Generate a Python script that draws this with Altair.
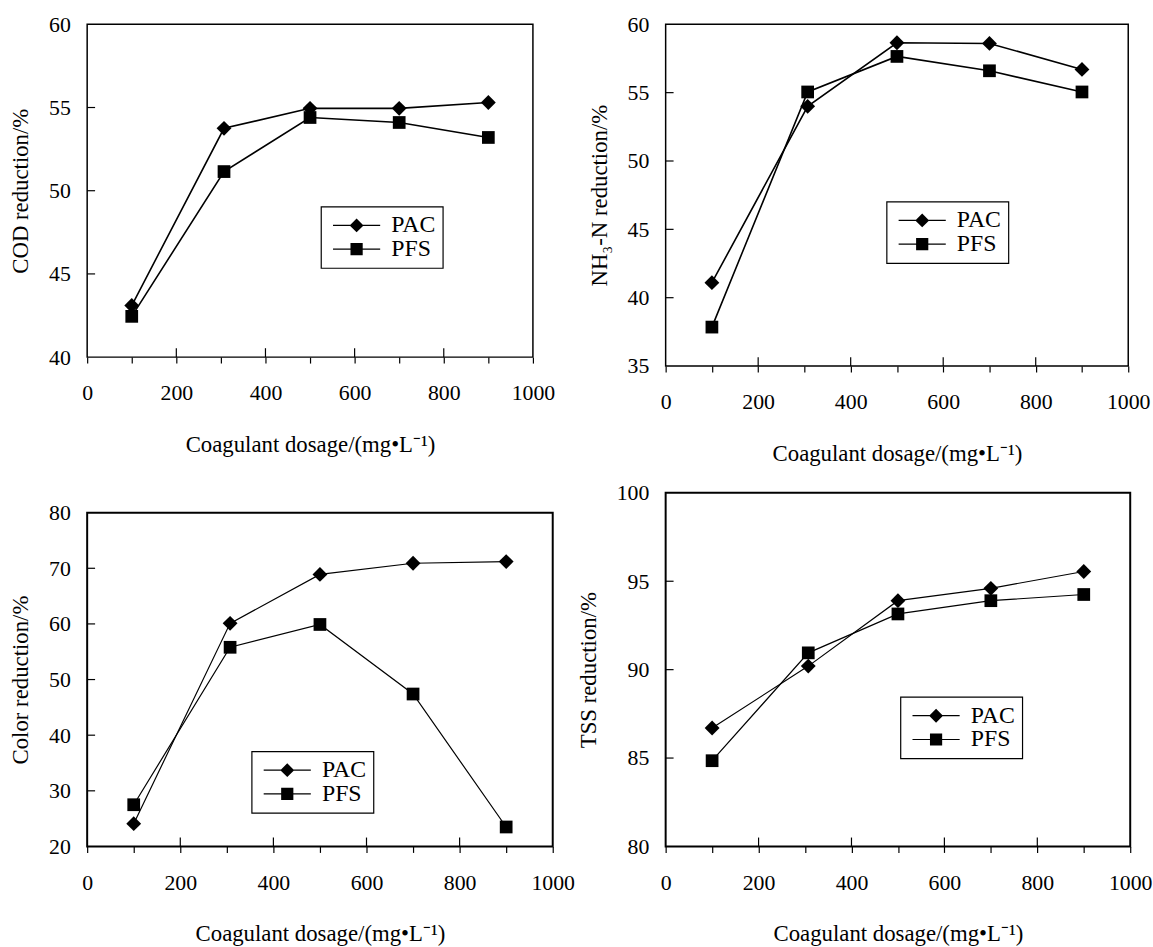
import altair as alt
import pandas as pd

# ---------------- data ----------------
dosage = [100, 307, 500, 700, 900]
series = ["PAC", "PFS"]

cod_pac = [43.1, 53.75, 54.95, 54.95, 55.3]
cod_pfs = [42.45, 51.15, 54.4, 54.1, 53.2]

nh3_pac = [41.1, 54.0, 58.65, 58.6, 56.7]
nh3_pfs = [37.85, 55.05, 57.65, 56.6, 55.05]

color_pac = [24.1, 60.1, 68.9, 70.9, 71.2]
color_pfs = [27.5, 55.8, 59.9, 47.4, 23.5]

tss_pac = [86.7, 90.2, 93.9, 94.6, 95.55]
tss_pfs = [84.85, 90.95, 93.15, 93.9, 94.25]

x_tick_values = [0, 100, 200, 300, 400, 500, 600, 700, 800, 900, 1000]
x_major_inner = [200, 400, 600, 800]

cod_ticks = [40, 45, 50, 55, 60]
nh3_ticks = [35, 40, 45, 50, 55, 60]
color_ticks = [20, 30, 40, 50, 60, 70, 80]
tss_ticks = [80, 85, 90, 95, 100]

X_TITLE = "Coagulant dosage/(mg\u2022L\u207b\u00b9)"
FONT = "Liberation Serif"

# legend symbols: thin bar (the line) through a diamond / square, fill only
LEG_DIAMOND = "M-3.4,-0.085H3.4V0.085H-3.4ZM0,-1L1,0L0,1L-1,0Z"
LEG_SQUARE = "M-3.4,-0.085H3.4V0.085H-3.4ZM-0.88,-0.88H0.88V0.88H-0.88Z"


def panel(pac, pfs, ytitle, yticks, w, h, leg_x, leg_y, frame_w, line_w):
    df = pd.DataFrame({
        "dosage": dosage + dosage,
        "value": pac + pfs,
        "series": [series[0]] * len(dosage) + [series[1]] * len(dosage),
    })
    x = alt.X(
        "dosage:Q",
        scale=alt.Scale(domain=[0, 1000], nice=False, zero=False),
        axis=alt.Axis(
            values=x_tick_values, format="d",
            labelExpr="datum.value % 200 === 0 ? datum.label : ''",
            title=X_TITLE, grid=False, domain=False,
            tickSize=6, tickColor="black", tickWidth=1.2,
            labelFont=FONT, labelFontSize=22, labelColor="black",
            labelPadding=20, labelFlush=False, labelOverlap=False,
            titleFont=FONT, titleFontSize=23, titleFontWeight="normal",
            titleColor="black", titlePadding=30,
        ),
    )
    y = alt.Y(
        "value:Q",
        scale=alt.Scale(domain=[yticks[0], yticks[-1]], nice=False, zero=False),
        axis=alt.Axis(
            values=yticks, ticks=False, tickSize=0, grid=False, domain=False,
            labelFont=FONT, labelFontSize=22, labelColor="black",
            labelPadding=17, labelFlush=False, labelOverlap=False,
            title=ytitle, titleFont=FONT, titleFontSize=23,
            titleFontWeight="normal", titleColor="black", titlePadding=16,
        ),
    )
    base = alt.Chart(df)
    line = base.mark_line(color="black", strokeWidth=line_w).encode(
        x=x, y=y, detail="series:N"
    )
    xt = alt.Chart(pd.DataFrame({"dosage": x_major_inner})).mark_rule(
        color="black", strokeWidth=1.2
    ).encode(x=x, y=alt.value(h - 9), y2=alt.value(h))
    yt = alt.Chart(pd.DataFrame({"value": yticks[1:-1]})).mark_rule(
        color="black", strokeWidth=1.2
    ).encode(y=y, x=alt.value(0), x2=alt.value(8))
    pac_pts = base.transform_filter(alt.datum.series == "PAC").mark_point(
        shape="diamond", filled=True, color="black", opacity=1, size=225
    ).encode(x=x, y=y)
    pfs_pts = base.transform_filter(alt.datum.series == "PFS").mark_point(
        shape="square", filled=True, color="black", opacity=1, size=165
    ).encode(x=x, y=y)
    leg = base.transform_filter("false").mark_point(
        filled=True, color="black", opacity=1
    ).encode(
        shape=alt.Shape(
            "series:N",
            title=None,
            scale=alt.Scale(domain=series, range=[LEG_DIAMOND, LEG_SQUARE]),
            legend=alt.Legend(
                orient="none", legendX=leg_x, legendY=leg_y,
                symbolSize=196, symbolFillColor="black",
                symbolOpacity=1, symbolOffset=17,
                labelFont=FONT, labelFontSize=24, labelColor="black",
                labelOffset=23, rowPadding=-3, padding=7,
                strokeColor="black", fillColor="white",
            ),
        )
    )
    return alt.layer(line, xt, yt, pac_pts, pfs_pts, leg).properties(
        width=w, height=h,
        view=alt.ViewBackground(stroke="black", strokeWidth=frame_w, fill="white"),
    )


p1 = panel(cod_pac, cod_pfs, "COD reduction/%", cod_ticks, 450, 336, 236, 184, 1.5, 1.6)
p2 = panel(nh3_pac, nh3_pfs, "NH\u2083-N reduction/%", nh3_ticks, 467, 345, 223, 179, 1.5, 1.6)
p3 = panel(color_pac, color_pfs, "Color reduction/%", color_ticks, 470, 337, 166, 241, 2, 1.2)
p4 = panel(tss_pac, tss_pfs, "TSS reduction/%", tss_ticks, 469, 357, 237, 206, 2, 1.2)

left = alt.vconcat(p1, p3, spacing=157, bounds="flush").resolve_scale(
    shape="independent").resolve_legend(shape="independent")
right = alt.vconcat(p2, p4, spacing=128, bounds="flush").resolve_scale(
    shape="independent").resolve_legend(shape="independent")

chart = alt.hconcat(left, right, spacing=1).resolve_scale(
    shape="independent"
).resolve_legend(shape="independent").properties(
    padding={"left": 9, "top": 8, "right": 0, "bottom": 0},
    background="white",
).configure_legend(strokeWidth=1.2)

chart.save("out.html", embed_options={"renderer": "svg", "actions": False})
